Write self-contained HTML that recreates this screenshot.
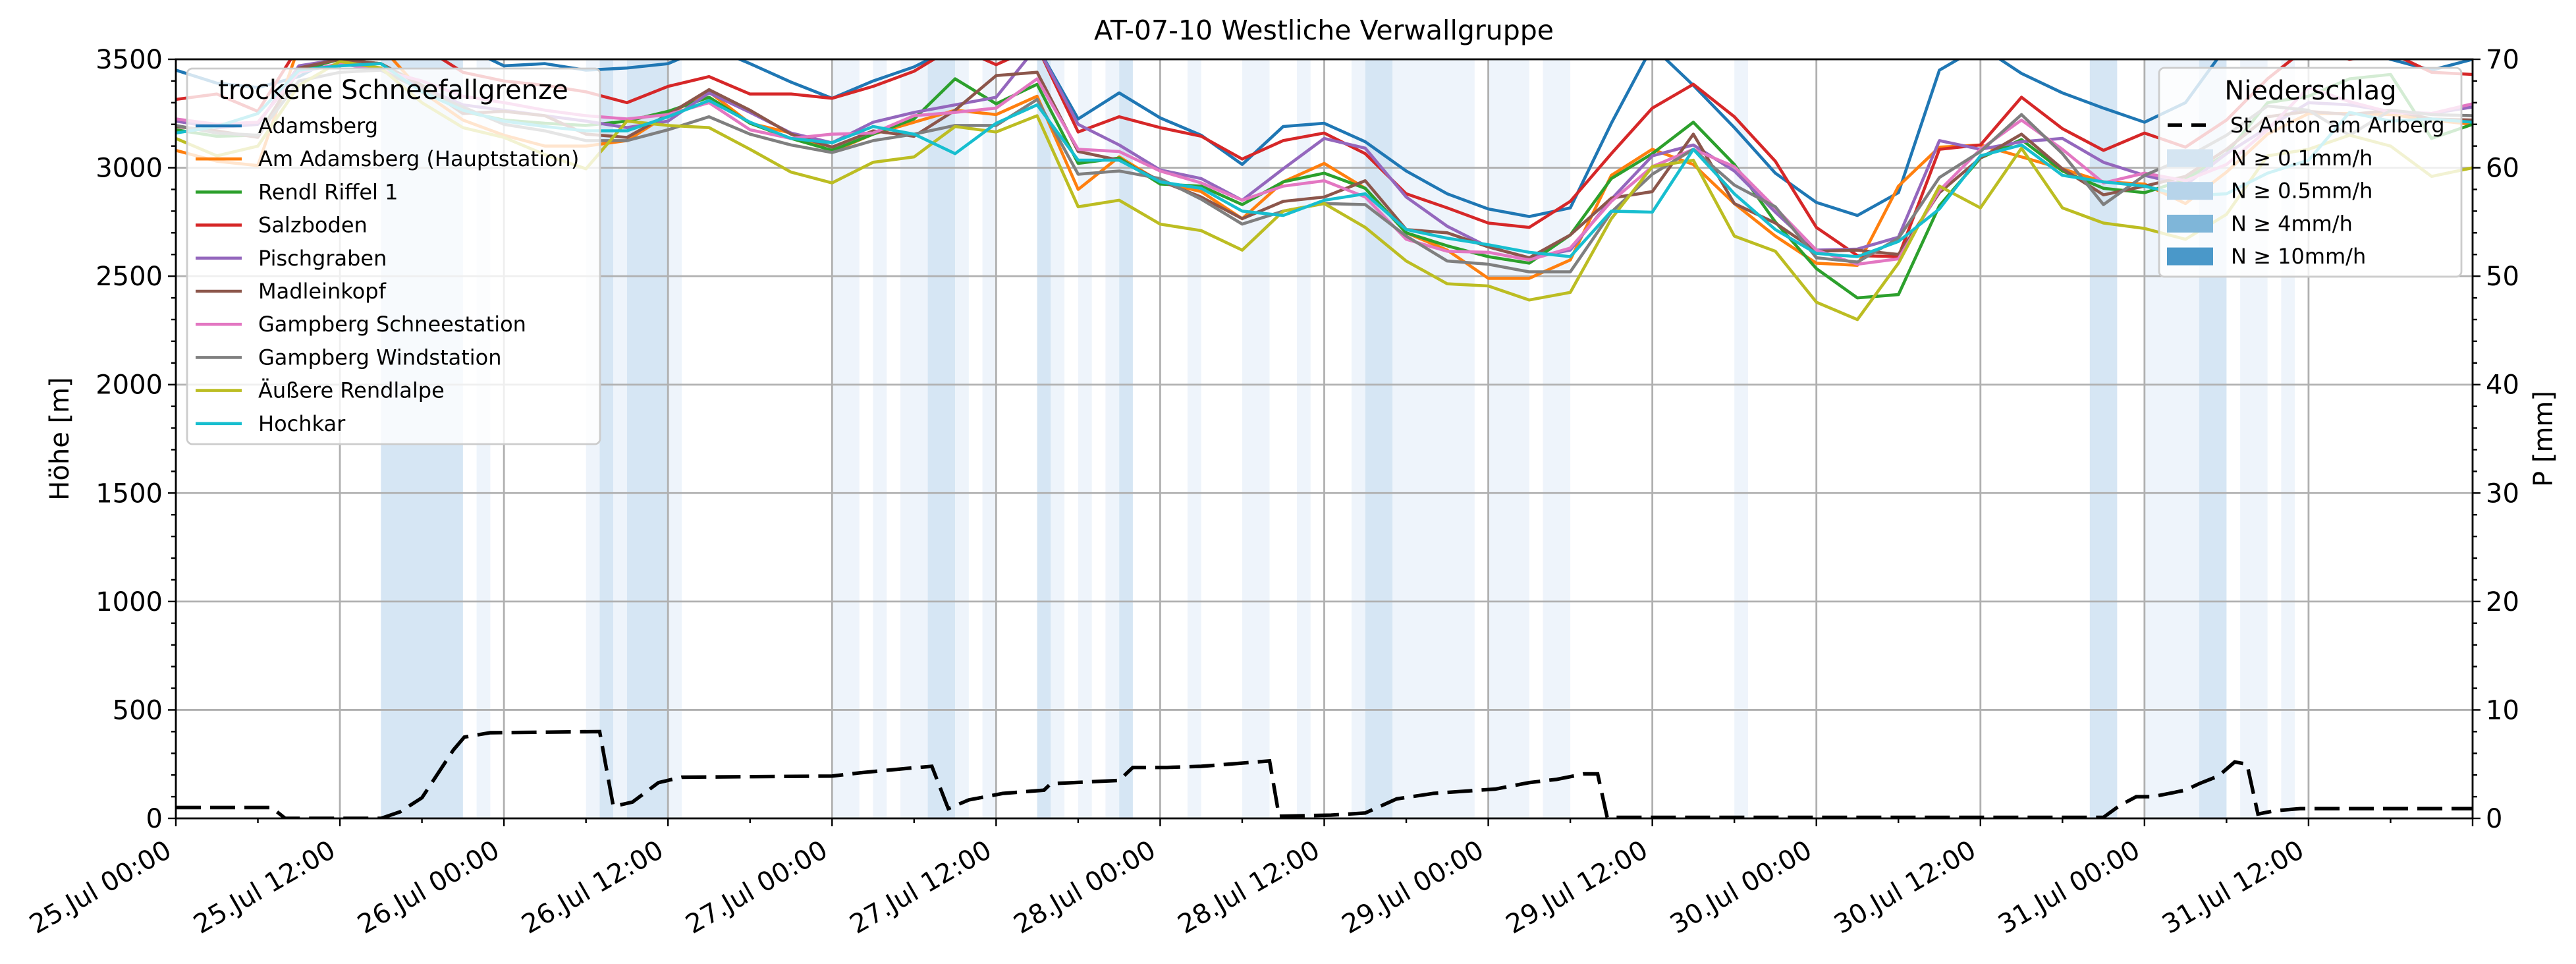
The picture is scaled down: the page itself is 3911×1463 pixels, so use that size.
<!DOCTYPE html>
<html>
<head>
<meta charset="utf-8">
<style>
html,body{margin:0;padding:0;background:#fff;}
svg{display:block;font-family:"DejaVu Sans","Liberation Sans",sans-serif;}
</style>
</head>
<body>
<svg id="chart" width="3911" height="1463" viewBox="0 0 3911 1463" xmlns="http://www.w3.org/2000/svg">
<defs><clipPath id="plotclip"><rect x="267" y="90" width="3487" height="1152"/></clipPath></defs>
<rect x="0" y="0" width="3911" height="1463" fill="#fff"/>
<text x="2010" y="60" text-anchor="middle" font-size="41">AT-07-10 Westliche Verwallgruppe</text>
<g id="bands" clip-path="url(#plotclip)"></g>
<g id="grid"></g>
<g id="series" clip-path="url(#plotclip)"></g>
<g id="precip" clip-path="url(#plotclip)"></g>
<g id="axes"></g>
<g id="legends"></g>
<text x="0" y="0" transform="translate(104,666) rotate(-90)" text-anchor="middle" font-size="40">Höhe [m]</text>
<text x="0" y="0" transform="translate(3875,666) rotate(-90)" text-anchor="middle" font-size="40">P [mm]</text>
</svg>
<script>
const hours = [0,3,6,9,12,15,18,21,24,27,30,33,36,39,42,45,48,51,54,57,60,63,66,69,72,75,78,81,84,87,90,93,96,99,102,105,108,111,114,117,120,123,126,129,132,135,138,141,144,147,150,153,156,159,162,165,168];
const seriesNames = ["Adamsberg","Am Adamsberg (Hauptstation)","Rendl Riffel 1","Salzboden","Pischgraben","Madleinkopf","Gampberg Schneestation","Gampberg Windstation","Äußere Rendlalpe","Hochkar"];
const adamsberg = [3450,3390,3370,3420,3520,3560,3560,3560,3470,3480,3450,3460,3480,3560,3480,3395,3320,3400,3465,3560,3560,3560,3225,3345,3230,3150,3015,3190,3205,3120,2985,2880,2810,2775,2815,3205,3560,3380,3185,2975,2840,2780,2885,3450,3560,3435,3345,3275,3210,3300,3560,3560,3560,3560,3500,3450,3500];
const amAdamsberg = [3080,3030,3010,3560,3560,3560,3350,3220,3150,3100,3100,3125,3245,3350,3205,3160,3075,3155,3210,3265,3245,3330,2900,3050,2935,2890,2765,2935,3020,2905,2700,2620,2490,2490,2575,2965,3085,3015,2835,2685,2560,2550,2915,3095,3105,3050,2995,2935,2925,2835,2980,3155,3250,3250,3245,3220,3200];
const rendl = [3175,3145,3150,3450,3500,3480,3380,3260,3220,3205,3195,3215,3260,3325,3205,3135,3080,3155,3225,3410,3295,3385,3020,3045,2925,2915,2830,2935,2975,2905,2700,2640,2590,2560,2690,2950,3065,3210,3015,2750,2535,2400,2415,2825,3045,3130,2985,2905,2885,2945,3065,3300,3330,3410,3430,3135,3200];
const salzboden = [3315,3340,3260,3560,3560,3560,3560,3440,3400,3380,3350,3300,3375,3420,3340,3340,3320,3375,3445,3560,3475,3560,3165,3235,3185,3145,3040,3125,3160,3065,2880,2815,2745,2725,2845,3065,3275,3385,3235,3030,2725,2595,2590,3085,3105,3325,3180,3080,3160,3095,3220,3410,3560,3500,3530,3440,3430];
const pischgraben = [3215,3185,3200,3470,3500,3450,3370,3290,3265,3240,3215,3185,3215,3345,3255,3160,3115,3210,3255,3290,3325,3560,3200,3105,2990,2950,2850,2995,3135,3090,2865,2730,2635,2585,2620,2855,3055,3105,2985,2795,2620,2625,2680,3125,3085,3120,3135,3025,2965,2920,3065,3185,3300,3290,3260,3250,3280];
const madleinkopf = [3190,3170,3140,3460,3500,3480,3380,3250,3260,3240,3155,3140,3245,3360,3265,3155,3095,3170,3145,3265,3425,3440,3075,3035,2940,2865,2765,2845,2865,2940,2715,2700,2635,2585,2690,2860,2890,3155,2835,2745,2615,2620,2600,2885,3045,3155,2995,2875,2915,2960,3085,3235,3260,3245,3265,3225,3220];
const gampbergSchnee = [3225,3200,3210,3440,3480,3450,3400,3330,3300,3265,3240,3225,3245,3300,3175,3135,3155,3160,3240,3255,3275,3410,3085,3075,2985,2930,2850,2915,2940,2865,2670,2615,2610,2575,2630,2845,3005,3085,3005,2815,2620,2555,2580,2895,3085,3220,3085,2930,2975,2940,3015,3175,3370,3305,3255,3250,3295];
const gampbergWind = [3195,3160,3150,3400,3440,3450,3360,3280,3200,3170,3125,3125,3175,3235,3155,3105,3070,3125,3155,3195,3195,3315,2970,2985,2950,2855,2740,2800,2835,2830,2685,2570,2555,2520,2520,2795,2970,3085,2920,2820,2585,2565,2675,2955,3075,3245,3065,2830,2965,3045,3150,3285,3265,3150,3265,3245,3240];
const aeussere = [3135,3055,3100,3380,3490,3460,3300,3185,3140,3060,2995,3215,3195,3185,3085,2980,2930,3025,3050,3190,3165,3240,2820,2850,2740,2710,2620,2800,2835,2725,2570,2465,2455,2390,2425,2765,3005,3035,2685,2615,2380,2300,2560,2915,2815,3090,2815,2745,2720,2670,2785,3055,3085,3150,3100,2960,3000];
const hochkar = [3160,3190,3250,3450,3470,3480,3350,3265,3215,3190,3170,3170,3235,3310,3210,3135,3115,3190,3155,3065,3205,3290,3035,3035,2935,2905,2800,2780,2850,2880,2715,2675,2645,2610,2590,2800,2795,3085,2880,2715,2605,2590,2660,2810,3055,3105,2965,2935,2915,2870,2880,2975,3035,3255,3215,3225,3210];
const precipHours = [0,7,8,15,16.4,18,20.3,21.1,23,31,32,33.4,35.3,37,48,50,53.4,55.3,56.5,58,60.5,63.5,64,69,70,72.5,75,79,80,80.7,84.5,87,89.3,92,95.3,96.5,99,101,103,104,104.7,141,142.2,143.4,144.6,147,148,149.4,150.6,151.5,152.3,153.5,155.4,168];
const precipValues = [1.0,1.0,0,0,0.6,1.9,6.3,7.5,7.9,8.0,1.1,1.5,3.3,3.8,3.9,4.2,4.6,4.8,0.9,1.7,2.3,2.6,3.2,3.5,4.7,4.7,4.8,5.2,5.3,0.2,0.3,0.5,1.8,2.3,2.6,2.7,3.3,3.6,4.1,4.1,0.1,0.1,1.2,2.0,2.0,2.6,3.2,3.9,5.2,5.0,0.4,0.7,0.9,0.9];
const bandStart = [15,22,30,31,32,33,36,48,51,53,55,57,59,63,64,66,68,69,74,78,82,86,87,89,96,100,114,140,144,148,151,154];
const bandEnd   = [21,23,31,32,33,36,37,50,52,55,57,58,60,64,65,67,69,70,75,80,83,87,89,95,99,102,115,142,148,150,153,155];
const bandLevel = [2,1,1,2,1,2,1,1,1,1,2,1,1,2,1,1,1,2,1,1,1,1,2,1,1,1,1,2,1,2,1,1];
const leftTicks = [0,500,1000,1500,2000,2500,3000,3500];
const rightTicks = [0,10,20,30,40,50,60,70];
const xTickLabels = ["25.Jul 00:00","25.Jul 12:00","26.Jul 00:00","26.Jul 12:00","27.Jul 00:00","27.Jul 12:00","28.Jul 00:00","28.Jul 12:00","29.Jul 00:00","29.Jul 12:00","30.Jul 00:00","30.Jul 12:00","31.Jul 00:00","31.Jul 12:00"];
const precipLegendLabels = ["N ≥ 0.1mm/h","N ≥ 0.5mm/h","N ≥ 4mm/h","N ≥ 10mm/h"];

const NS = "http://www.w3.org/2000/svg";
const X0 = 267, X1 = 3754, Y0 = 90, Y1 = 1242;
const HMAX = 168, YMAX = 3500, PMAX = 70;
function xOf(h){ return X0 + h*(X1-X0)/HMAX; }
function yL(v){ return Y1 - v*(Y1-Y0)/YMAX; }
function yR(p){ return Y1 - p*(Y1-Y0)/PMAX; }
function mk(tag, attrs, parent){
  const e = document.createElementNS(NS, tag);
  for (const k in attrs) e.setAttribute(k, attrs[k]);
  parent.appendChild(e);
  return e;
}
const colors = ["#1f77b4","#ff7f0e","#2ca02c","#d62728","#9467bd","#8c564b","#e377c2","#7f7f7f","#bcbd22","#17becf"];
const allSeries = [adamsberg, amAdamsberg, rendl, salzboden, pischgraben, madleinkopf, gampbergSchnee, gampbergWind, aeussere, hochkar];
const bandColors = {1:"#eef4fb", 2:"#d6e6f4"};
const legendPatchColors = ["#d5e5f2","#b7d4ea","#7fb6d9","#4a98c9"];

// bands
const gB = document.getElementById("bands");
for (let i=0;i<bandStart.length;i++){
  const r = mk("rect",{x:xOf(bandStart[i]),y:Y0,width:xOf(bandEnd[i])-xOf(bandStart[i]),height:Y1-Y0,fill:bandColors[bandLevel[i]]},gB);
  
  
}
// grid
const gG = document.getElementById("grid");
for (let i=0;i<=HMAX/12;i++){
  const x = xOf(i*12);
  const l = mk("line",{x1:x,x2:x,y1:Y0,y2:Y1,stroke:"#b0b0b0","stroke-width":2.8},gG);
  
  
}
for (const v of leftTicks){
  const y = yL(v);
  const l = mk("line",{x1:X0,x2:X1,y1:y,y2:y,stroke:"#b0b0b0","stroke-width":2.8},gG);
  
  
}
// series
const gS = document.getElementById("series");
allSeries.forEach((arr, si)=>{
  const pts = arr.map((v,i)=>xOf(hours[i]).toFixed(1)+","+yL(v).toFixed(1)).join(" ");
  const p = mk("polyline",{points:pts,fill:"none",stroke:colors[si],"stroke-width":4.6,"stroke-linejoin":"round"},gS);
  
  
});
// precip line
const gP = document.getElementById("precip");
const ppts = precipValues.map((v,i)=>xOf(precipHours[i]).toFixed(1)+","+yR(v).toFixed(1)).join(" ");
const pl = mk("polyline",{points:ppts,fill:"none",stroke:"#000","stroke-width":5.4,"stroke-dasharray":"38 14"},gP);



// axes
const gA = document.getElementById("axes");
const frame = mk("rect",{x:X0,y:Y0,width:X1-X0,height:Y1-Y0,fill:"none",stroke:"#000","stroke-width":2.8},gA);


for (let v=0; v<=YMAX; v+=100){
  const y = yL(v), major = v%500===0;
  const t = mk("line",{x1:X0,x2:X0-(major?12:7),y1:y,y2:y,stroke:"#000","stroke-width":2.4},gA);
  
  
}
for (const v of leftTicks){
  const t = mk("text",{x:X0-20,y:yL(v)+14,"text-anchor":"end","font-size":40},gA);
  t.textContent = v;
  
  
}
for (let p=0; p<=PMAX; p+=2){
  const y = yR(p), major = p%10===0;
  const t = mk("line",{x1:X1,x2:X1+(major?12:7),y1:y,y2:y,stroke:"#000","stroke-width":2.4},gA);
  
  
}
for (const p of rightTicks){
  const t = mk("text",{x:X1+20,y:yR(p)+14,"text-anchor":"start","font-size":40},gA);
  t.textContent = p;
  
  
}
for (let h=0; h<=HMAX; h+=6){
  const x = xOf(h), major = h%12===0;
  const t = mk("line",{x1:x,x2:x,y1:Y1,y2:Y1+(major?12:7),stroke:"#000","stroke-width":2.4},gA);
  
  
}
xTickLabels.forEach((lab,i)=>{
  const x = xOf(i*12)-4, y = 1298;
  const t = mk("text",{x:x,y:y,"text-anchor":"end","font-size":40,transform:"rotate(-30 "+x+" "+y+")"},gA);
  t.textContent = lab;
  
  
});

// legends
const gL = document.getElementById("legends");
const lg1 = mk("g",{},gL);


const box1 = mk("rect",{x:284,y:104,width:627,height:570,rx:8,fill:"rgba(255,255,255,0.8)",stroke:"#cccccc","stroke-width":2.8},lg1);


const t1 = mk("text",{x:597,y:150,"text-anchor":"middle","font-size":40},lg1);
t1.textContent = "trockene Schneefallgrenze";


seriesNames.forEach((nm,i)=>{
  const y = 191 + i*50.2;
  const ln = mk("line",{x1:297,x2:367,y1:y,y2:y,stroke:colors[i],"stroke-width":4.6},lg1);
  
  
  const tx = mk("text",{x:392,y:y+11,"font-size":32},lg1);
  tx.textContent = nm;
  
  
});
const lg2 = mk("g",{},gL);


const box2 = mk("rect",{x:3278,y:103,width:459,height:317,rx:8,fill:"rgba(255,255,255,0.8)",stroke:"#cccccc","stroke-width":2.8},lg2);


const t2 = mk("text",{x:3508,y:151,"text-anchor":"middle","font-size":40},lg2);
t2.textContent = "Niederschlag";


const dl = mk("line",{x1:3291,x2:3351,y1:190,y2:190,stroke:"#000","stroke-width":5.4,"stroke-dasharray":"22 14"},lg2);


const dt = mk("text",{x:3386,y:201,"font-size":32},lg2);
dt.textContent = "St Anton am Arlberg";


precipLegendLabels.forEach((lab,i)=>{
  const y = 240 + i*49.7;
  const r = mk("rect",{x:3290,y:y-13.5,width:70,height:27,fill:legendPatchColors[i]},lg2);
  
  
  const tx = mk("text",{x:3387,y:y+11,"font-size":32},lg2);
  tx.textContent = lab;
  
  
});
</script>
</body>
</html>
